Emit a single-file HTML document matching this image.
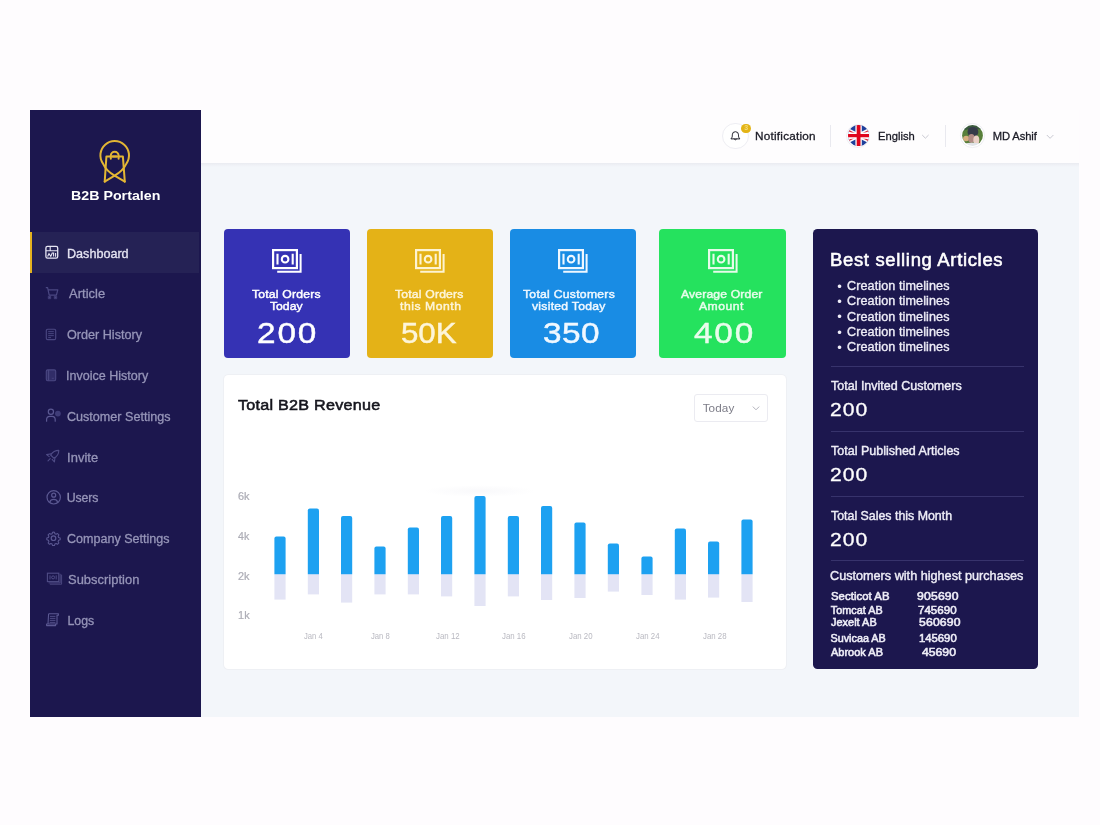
<!DOCTYPE html>
<html lang="en">
<head>
<meta charset="utf-8">
<title>B2B Portalen – Dashboard</title>
<style>
*{box-sizing:border-box;margin:0;padding:0}
html,body{width:1100px;height:825px;overflow:hidden}
body{background:#fefcfe;font-family:"Liberation Sans",sans-serif;position:relative}
.a,.t,svg.a{position:absolute}
.t{white-space:nowrap;transform-origin:0 50%}
#sb-bg{left:30px;top:109.7px;width:171px;height:607.1px;background:#1c174e}
#sb-active{left:30px;top:231.8px;width:169px;height:40.9px;background:#252255;border-left:2px solid #e4b21f}
#hd-bg{left:201px;top:110px;width:877.7px;height:53px;background:#fefdfe}
#hd-shadow{left:201px;top:163px;width:877.7px;height:4px;background:linear-gradient(#eaebf1,#eef0f5 40%,#f3f6fa)}
#main-bg{left:201px;top:163px;width:877.7px;height:553.8px;background:#f3f6fa}
.card{top:229.1px;width:126.7px;height:129px;border-radius:4px}
#chart-bg{left:223.6px;top:375.3px;width:562.4px;height:293.3px;background:#fff;border-radius:4.5px;box-shadow:0 0 0 1px #eef0f4}
#panel-bg{left:813.2px;top:229px;width:225px;height:439.6px;background:#1c174e;border-radius:4.5px}
.hr{left:831px;width:193px;height:1px;background:#37336c}
.vr{top:125px;width:1px;height:22px;background:#e9e9ef}
#dd{left:694px;top:393.5px;width:73.6px;height:28.2px;border:1px solid #ebebf1;border-radius:3px;background:#fff}
.ring{border-radius:50%;border:1px solid #eeeef3;background:#fff}
</style>
</head>
<body>

<nav id="sidebar">
  <div id="sb-bg" class="a"></div>
  <div id="sb-active" class="a"></div>
  <!-- logo -->
  <svg class="a" style="left:95px;top:136px" width="40" height="50" viewBox="95 136 40 50" fill="none" stroke="#e3b634" stroke-width="2" stroke-linejoin="round" stroke-linecap="round">
    <path d="M124.8 181.6 L114.6 175.6 Q106.2 170.8 103 163.6 A14.3 14.3 0 1 1 126.4 163.6 Q123 170.8 114.6 175.6 L104.7 181.6"/>
    <path d="M104.7 181.6 L106.4 156.6 H122.9 L124.8 181.6"/>
    <path d="M110.8 158.8 V155.6 A3.9 3.9 0 0 1 118.6 155.6 V158.8"/>
    <path d="M112.6 156.6 H116.4"/>
  </svg>
  <!-- nav icons -->
  <svg class="a" style="left:44px;top:244px" width="16" height="16" viewBox="44 244 16 16" fill="none" stroke="#e6e5f3" stroke-width="1.3">
    <rect x="45.9" y="246.4" width="11.8" height="11.8" rx="1.6"/>
    <path d="M46 250.7 H57.6 M50.2 246.6 V250.6" stroke-width="1.1"/>
    <path d="M47.6 256.6 L49 253.6 L50.8 256.4 L52.2 253 H53.6 V256.6 M55.6 253 V256.8" stroke-width="1.1"/>
  </svg>
  <svg class="a" style="left:44px;top:285px" width="16" height="16" viewBox="44 285 16 16" fill="none" stroke="#4b4883" stroke-width="1.2" stroke-linejoin="round">
    <path d="M45.8 287.6 H47.6 L49.2 295.2 H56.4 L57.8 289.8 H48.2"/>
    <rect x="48.7" y="296.7" width="1.6" height="1.6" fill="#4b4883" stroke="none"/>
    <rect x="54.7" y="296.7" width="1.6" height="1.6" fill="#4b4883" stroke="none"/>
    <rect x="48.3" y="296.3" width="2.4" height="2.4" stroke-width=".8"/>
    <rect x="54.3" y="296.3" width="2.4" height="2.4" stroke-width=".8"/>
  </svg>
  <svg class="a" style="left:44px;top:327px" width="16" height="16" viewBox="44 327 16 16" fill="none" stroke="#4b4883" stroke-width="1.1">
    <rect x="46.3" y="329.2" width="9.4" height="10.4" rx="1.4"/>
    <path d="M48.2 331.6 H53.8 M48.2 333.6 H53.8 M48.2 335.6 H53.8 M48.2 337.6 H51" stroke-width=".9"/>
  </svg>
  <svg class="a" style="left:44px;top:368px" width="16" height="16" viewBox="44 368 16 16" fill="none" stroke="#4b4883" stroke-width="1.1">
    <rect x="46.3" y="369.9" width="9.4" height="10.8" rx="1.4" fill="#312d68"/>
    <path d="M48.6 370 V380.6"/>
    <path d="M51.8 378.3 H54" stroke-width="1" stroke-dasharray="1 .5"/>
  </svg>
  <svg class="a" style="left:44px;top:407px" width="19" height="17" viewBox="44 407 19 17" fill="none" stroke="#5b5892" stroke-width="1.2" stroke-linecap="round">
    <circle cx="50.9" cy="411.8" r="2.6"/>
    <path d="M46.6 421.2 V419.6 A3.2 3.2 0 0 1 49.8 416.4 H52 A3.2 3.2 0 0 1 55.2 419.6 V421.2"/>
    <circle cx="57.9" cy="413.6" r="2.9" fill="#3f3c78" stroke="none"/>
  </svg>
  <svg class="a" style="left:44px;top:448px" width="18" height="16" viewBox="44 448 18 16" fill="none" stroke="#4f4c86" stroke-width="1.1" stroke-linejoin="round" stroke-linecap="round">
    <path d="M58.8 450.4 C55.4 450.4 52.4 452.2 50.6 455 L53.8 458.2 C56.8 456.6 58.8 453.8 58.8 450.4 Z"/>
    <path d="M51.4 453.8 L46.6 454.6 L49.2 456.6 M55 457.4 L54.4 462 L52.2 459.4"/>
    <path d="M50.2 458.6 L48 460.8"/>
  </svg>
  <svg class="a" style="left:45px;top:489px" width="17" height="17" viewBox="45 489 17 17" fill="none" stroke="#5b5892" stroke-width="1.2">
    <circle cx="53.7" cy="497.3" r="6.7"/>
    <circle cx="53.7" cy="495.2" r="2"/>
    <path d="M49.8 502 A4 3.4 0 0 1 57.6 502"/>
  </svg>
  <svg class="a" style="left:45px;top:530px" width="17" height="17" viewBox="45 530 17 17" fill="none" stroke="#5b5892" stroke-width="1.2" stroke-linejoin="round">
    <circle cx="53.5" cy="538.2" r="2.3"/>
    <path transform="translate(53.5 538.2) scale(.87) translate(-53.5 -538.2)" d="M53.5 531.2 l1.1 .1 l.5 1.8 l1.4 .6 l1.6 -.9 l1.6 1.6 l-.9 1.6 l.6 1.4 l1.8 .5 v2.2 l-1.8 .5 l-.6 1.4 l.9 1.6 l-1.6 1.6 l-1.6 -.9 l-1.4 .6 l-.5 1.8 h-2.2 l-.5 -1.8 l-1.4 -.6 l-1.6 .9 l-1.6 -1.6 l.9 -1.6 l-.6 -1.4 l-1.8 -.5 v-2.2 l1.8 -.5 l.6 -1.4 l-.9 -1.6 l1.6 -1.6 l1.6 .9 l1.4 -.6 l.5 -1.8 z"/>
  </svg>
  <svg class="a" style="left:46px;top:572px" width="18" height="14" viewBox="46 572 18 14" fill="none" stroke="#4f4c86" stroke-width="1.1">
    <rect x="47.4" y="573.2" width="11.4" height="8.4"/>
    <path d="M61.6 574.6 V584.2 H49.8 M60.2 573.8 V582.9 H48.6" stroke-width=".9"/>
    <path d="M50 575.4 V579.4 M56.2 575.4 V579.4" stroke-width="1"/>
    <circle cx="53.1" cy="577.4" r="1.5" stroke-width="1"/>
  </svg>
  <svg class="a" style="left:45px;top:612px" width="16" height="16" viewBox="45 612 16 16" fill="none" stroke="#5b5892" stroke-width="1.1" stroke-linejoin="round">
    <path d="M48.6 613.8 H58.4 V615.2 H57 V624 H48 M48.6 613.8 L48 624 M46.6 624 H55.6 V625.6 H46.6 Z"/>
    <path d="M50 616.4 H55.4 M49.9 618.4 H55.4 M49.8 620.4 H55.4 M49.7 622.4 H55.4" stroke-width=".8"/>
  </svg>
<div class="t" style="left:66.6px;top:247px;font-size:12.3px;line-height:14px;color:#e6e5f3;transform:scaleX(1.024);-webkit-text-stroke:0.3px #e6e5f3;">Dashboard</div>
<div class="t" style="left:68.6px;top:287px;font-size:12.3px;line-height:14px;color:#9695b8;letter-spacing:0.05px;transform:scaleX(1.050);-webkit-text-stroke:0.3px #9695b8;">Article</div>
<div class="t" style="left:67.0px;top:328px;font-size:12.3px;line-height:14px;color:#9695b8;transform:scaleX(1.026);-webkit-text-stroke:0.3px #9695b8;">Order History</div>
<div class="t" style="left:66.4px;top:369px;font-size:12.3px;line-height:14px;color:#9695b8;transform:scaleX(1.019);-webkit-text-stroke:0.3px #9695b8;">Invoice History</div>
<div class="t" style="left:67.0px;top:410px;font-size:12.3px;line-height:14px;color:#9695b8;transform:scaleX(1.023);-webkit-text-stroke:0.3px #9695b8;">Customer Settings</div>
<div class="t" style="left:67.4px;top:451px;font-size:12.3px;line-height:14px;color:#9695b8;letter-spacing:0.06px;transform:scaleX(1.050);-webkit-text-stroke:0.3px #9695b8;">Invite</div>
<div class="t" style="left:66.7px;top:491px;font-size:12.3px;line-height:14px;color:#9695b8;letter-spacing:-0.08px;-webkit-text-stroke:0.3px #9695b8;">Users</div>
<div class="t" style="left:67.0px;top:532px;font-size:12.3px;line-height:14px;color:#9695b8;transform:scaleX(1.020);-webkit-text-stroke:0.3px #9695b8;">Company Settings</div>
<div class="t" style="left:67.8px;top:573px;font-size:12.3px;line-height:14px;color:#9695b8;letter-spacing:0.03px;transform:scaleX(1.050);-webkit-text-stroke:0.3px #9695b8;">Subscription</div>
<div class="t" style="left:67.6px;top:614px;font-size:12.3px;line-height:14px;color:#9695b8;letter-spacing:-0.07px;-webkit-text-stroke:0.3px #9695b8;">Logs</div>
<div class="t" style="left:70.6px;top:188px;font-size:13.6px;line-height:15px;color:#ffffff;transform:scaleX(1.047);font-weight:bold;">B2B Portalen</div>
</nav>

<header id="header">
  <div id="hd-bg" class="a"></div>
  <div class="a ring" style="left:722px;top:122.6px;width:26.6px;height:26.6px"></div>
  <svg class="a" style="left:729px;top:129px" width="13" height="13" viewBox="729 129 13 13" fill="none" stroke="#22222c" stroke-width="1" stroke-linejoin="round" stroke-linecap="round">
    <path d="M731.2 138.6 C732.4 137.4 732.3 136.4 732.3 134.8 A3.1 3.1 0 0 1 738.5 134.8 C738.5 136.4 738.4 137.4 739.6 138.6 Z"/>
    <path d="M734.2 139 A1.3 1.3 0 0 0 736.6 139"/>
  </svg>
  <div class="a" style="left:741.2px;top:123.5px;width:9.8px;height:9.8px;border-radius:50%;background:#e3b416"></div>
  <div class="t" style="left:744.3px;top:124.4px;font-size:7px;line-height:8px;color:#f4dc7c;font-weight:bold">3</div>
  <div class="a vr" style="left:830px"></div>
  <!-- flag -->
  <div class="a ring" style="left:846px;top:123.5px;width:24.4px;height:24.4px"></div>
  <svg class="a" style="left:847.6px;top:125.1px" width="21.2" height="21.2" viewBox="-10.6 -10.6 21.2 21.2">
    <defs><clipPath id="fc"><circle r="10.6"/></clipPath></defs>
    <g clip-path="url(#fc)">
      <rect x="-11" y="-11" width="22" height="22" fill="#1f3f9b"/>
      <path d="M-21 -10.5 L21 10.5 M21 -10.5 L-21 10.5" stroke="#fff" stroke-width="4.2"/>
      <path d="M-21 -10.5 L21 10.5 M21 -10.5 L-21 10.5" stroke="#d8283a" stroke-width="1.3"/>
      <path d="M0 -11 V11 M-11 0 H11" stroke="#fff" stroke-width="6.4"/>
      <path d="M0 -11 V11" stroke="#e0051c" stroke-width="3.8"/>
      <path d="M-11 0 H11" stroke="#e0051c" stroke-width="3.2"/>
    </g>
  </svg>
  <svg class="a" style="left:920px;top:132px" width="11" height="9" viewBox="920 132 11 9" fill="none" stroke="#c9c9d2" stroke-width="1"><path d="M922.2 135 L925.4 138.2 L928.6 135"/></svg>
  <div class="a vr" style="left:945px"></div>
  <!-- avatar -->
  <div class="a ring" style="left:960.4px;top:123.4px;width:24.4px;height:24.4px"></div>
  <svg class="a" style="left:962px;top:125px" width="21" height="21" viewBox="-10.5 -10.5 21 21">
    <defs><clipPath id="ac"><circle r="10.4"/></clipPath><filter id="ab" x="-20%" y="-20%" width="140%" height="140%"><feGaussianBlur stdDeviation=".55"/></filter></defs>
    <g clip-path="url(#ac)"><g filter="url(#ab)">
      <rect x="-12" y="-12" width="24" height="24" fill="#587f3b"/>
      <path d="M-12 -12 H12 V-5 Q0 -9 -12 -4 Z" fill="#3a5a3c"/>
      <ellipse cx=".4" cy="-3.6" rx="5.4" ry="5" fill="#363a4a"/>
      <ellipse cx="-6.4" cy="3" rx="3" ry="2.8" fill="#d6ae7e"/>
      <ellipse cx="-1" cy="3" rx="3.2" ry="4.4" fill="#b08a84"/>
      <ellipse cx="3.8" cy="4.6" rx="3" ry="4.6" fill="#ead0c6"/>
      <path d="M-9 8.4 Q0 6.2 9 8.6 V12 H-9 Z" fill="#e1e4e8"/>
    </g></g>
  </svg>
  <svg class="a" style="left:1044px;top:132px" width="12" height="9" viewBox="1044 132 12 9" fill="none" stroke="#c9c9d2" stroke-width="1"><path d="M1046.8 135 L1050.1 138.3 L1053.4 135"/></svg>
<div class="t" style="left:755.4px;top:130px;font-size:11.2px;line-height:12px;color:#1b1b26;letter-spacing:0.22px;transform:scaleX(1.050);-webkit-text-stroke:0.3px #1b1b26;">Notification</div>
<div class="t" style="left:878.1px;top:130px;font-size:11.2px;line-height:12px;color:#1b1b26;-webkit-text-stroke:0.3px #1b1b26;">English</div>
<div class="t" style="left:992.7px;top:130px;font-size:11.2px;line-height:12px;color:#1b1b26;letter-spacing:-0.08px;-webkit-text-stroke:0.3px #1b1b26;">MD Ashif</div>
</header>

<main id="main">
  <div id="main-bg" class="a"></div>
  <div id="hd-shadow" class="a"></div>

  <section id="cards">
    <div class="a card" style="left:223.7px;background:#3532b4"></div>
    <div class="a card" style="left:366.5px;background:#e4b217"></div>
    <div class="a card" style="left:509.5px;background:#198ce4"></div>
    <div class="a card" style="left:659.4px;background:#25e25e"></div>
        <svg class="a" style="left:272px;top:249.4px" width="31" height="25" stroke="#ffffff" fill="none">
      <rect x="1.1" y="1.1" width="23.8" height="18" stroke-width="2.2"/>
        <path d="M28.6 5 V22.7 H5.2" stroke-width="2"/>
        <path d="M5.5 4.7 V15.6 M20.7 4.7 V15.6" stroke-width="2.1"/>
        <circle cx="13.1" cy="10.2" r="3.3" stroke-width="2.1"/>
    </svg>
    <svg class="a" style="left:415px;top:249.4px" width="31" height="25" stroke="#fdf3d2" fill="none">
      <rect x="1.1" y="1.1" width="23.8" height="18" stroke-width="2.2"/>
        <path d="M28.6 5 V22.7 H5.2" stroke-width="2"/>
        <path d="M5.5 4.7 V15.6 M20.7 4.7 V15.6" stroke-width="2.1"/>
        <circle cx="13.1" cy="10.2" r="3.3" stroke-width="2.1"/>
    </svg>
    <svg class="a" style="left:557.6px;top:249.4px" width="31" height="25" stroke="#eef7ff" fill="none">
      <rect x="1.1" y="1.1" width="23.8" height="18" stroke-width="2.2"/>
        <path d="M28.6 5 V22.7 H5.2" stroke-width="2"/>
        <path d="M5.5 4.7 V15.6 M20.7 4.7 V15.6" stroke-width="2.1"/>
        <circle cx="13.1" cy="10.2" r="3.3" stroke-width="2.1"/>
    </svg>
    <svg class="a" style="left:707.6px;top:249.4px" width="31" height="25" stroke="#e6fbe9" fill="none">
      <rect x="1.1" y="1.1" width="23.8" height="18" stroke-width="2.2"/>
        <path d="M28.6 5 V22.7 H5.2" stroke-width="2"/>
        <path d="M5.5 4.7 V15.6 M20.7 4.7 V15.6" stroke-width="2.1"/>
        <circle cx="13.1" cy="10.2" r="3.3" stroke-width="2.1"/>
    </svg>
<div class="t" style="left:252.1px;top:288px;font-size:11.6px;line-height:12px;color:#ffffff;letter-spacing:0.19px;transform:scaleX(1.050);-webkit-text-stroke:0.45px #ffffff;">Total Orders</div>
<div class="t" style="left:269.7px;top:300px;font-size:11.6px;line-height:12px;color:#ffffff;transform:scaleX(1.050);-webkit-text-stroke:0.45px #ffffff;">Today</div>
<div class="t" style="left:256.9px;top:316px;font-size:29.5px;line-height:33px;color:#ffffff;letter-spacing:1.66px;transform:scaleX(1.130);-webkit-text-stroke:0.45px #ffffff;">200</div>
<div class="t" style="left:395.1px;top:288px;font-size:11.6px;line-height:12px;color:#fdf5da;letter-spacing:0.18px;transform:scaleX(1.050);-webkit-text-stroke:0.45px #fdf5da;">Total Orders</div>
<div class="t" style="left:399.8px;top:300px;font-size:11.6px;line-height:12px;color:#fdf5da;letter-spacing:0.51px;transform:scaleX(1.050);-webkit-text-stroke:0.45px #fdf5da;">this Month</div>
<div class="t" style="left:400.7px;top:316px;font-size:29.5px;line-height:33px;color:#fdf5da;transform:scaleX(1.059);-webkit-text-stroke:0.45px #fdf5da;">50K</div>
<div class="t" style="left:523.3px;top:288px;font-size:11.6px;line-height:12px;color:#f0f8ff;letter-spacing:0.26px;transform:scaleX(1.050);-webkit-text-stroke:0.45px #f0f8ff;">Total Customers</div>
<div class="t" style="left:532.0px;top:300px;font-size:11.6px;line-height:12px;color:#f0f8ff;letter-spacing:0.26px;transform:scaleX(1.050);-webkit-text-stroke:0.45px #f0f8ff;">visited Today</div>
<div class="t" style="left:543.1px;top:316px;font-size:29.5px;line-height:33px;color:#f0f8ff;letter-spacing:0.42px;transform:scaleX(1.130);-webkit-text-stroke:0.45px #f0f8ff;">350</div>
<div class="t" style="left:681.0px;top:288px;font-size:11.6px;line-height:12px;color:#e9fcec;letter-spacing:0.14px;transform:scaleX(1.050);-webkit-text-stroke:0.45px #e9fcec;">Average Order</div>
<div class="t" style="left:699.4px;top:300px;font-size:11.6px;line-height:12px;color:#e9fcec;letter-spacing:0.45px;transform:scaleX(1.050);-webkit-text-stroke:0.45px #e9fcec;">Amount</div>
<div class="t" style="left:694.0px;top:316px;font-size:29.5px;line-height:33px;color:#e9fcec;letter-spacing:1.61px;transform:scaleX(1.130);-webkit-text-stroke:0.45px #e9fcec;">400</div>
  </section>

  <section id="chart">
    <div id="chart-bg" class="a"></div>
    <div id="dd" class="a"></div>
    <svg class="a" style="left:750px;top:403px" width="12" height="10" viewBox="750 403 12 10" fill="none" stroke="#b4b4bd" stroke-width="1"><path d="M752.8 406.6 L756 409.8 L759.2 406.6"/></svg>
    <svg class="a" style="left:260px;top:485px" width="510" height="130" viewBox="260 485 510 130">
      <ellipse cx="480" cy="491" rx="56" ry="6" fill="url(#glow)"/>
      <defs><radialGradient id="glow"><stop offset="0" stop-color="#e9e9f0" stop-opacity=".3"/><stop offset="1" stop-color="#e9e9f0" stop-opacity="0"/></radialGradient></defs>
      <g fill="#e3e4f5">
        <rect x="274.4" y="574.2" width="11.2" height="25.4"/>
        <rect x="307.8" y="574.2" width="11.2" height="20.2"/>
        <rect x="341.0" y="574.2" width="11.2" height="28.4"/>
        <rect x="374.4" y="574.2" width="11.2" height="20.2"/>
        <rect x="407.8" y="574.2" width="11.2" height="20.2"/>
        <rect x="441.0" y="574.2" width="11.2" height="22.2"/>
        <rect x="474.4" y="574.2" width="11.2" height="31.8"/>
        <rect x="507.8" y="574.2" width="11.2" height="22.2"/>
        <rect x="541.0" y="574.2" width="11.2" height="25.8"/>
        <rect x="574.4" y="574.2" width="11.2" height="23.8"/>
        <rect x="607.8" y="574.2" width="11.2" height="17.4"/>
        <rect x="641.4" y="574.2" width="11.2" height="20.8"/>
        <rect x="674.8" y="574.2" width="11.2" height="25.4"/>
        <rect x="708.0" y="574.2" width="11.2" height="23.4"/>
        <rect x="741.4" y="574.2" width="11.2" height="27.8"/>
      </g>
      <g fill="#1da1f1">
        <path d="M274.4 574.2 V538.6 Q274.4 536.6 276.4 536.6 H283.6 Q285.6 536.6 285.6 538.6 V574.2 Z"/>
        <path d="M307.8 574.2 V510.4 Q307.8 508.4 309.8 508.4 H317.0 Q319.0 508.4 319.0 510.4 V574.2 Z"/>
        <path d="M341.0 574.2 V518.0 Q341.0 516.0 343.0 516.0 H350.2 Q352.2 516.0 352.2 518.0 V574.2 Z"/>
        <path d="M374.4 574.2 V548.6 Q374.4 546.6 376.4 546.6 H383.6 Q385.6 546.6 385.6 548.6 V574.2 Z"/>
        <path d="M407.8 574.2 V529.4 Q407.8 527.4 409.8 527.4 H417.0 Q419.0 527.4 419.0 529.4 V574.2 Z"/>
        <path d="M441.0 574.2 V518.0 Q441.0 516.0 443.0 516.0 H450.2 Q452.2 516.0 452.2 518.0 V574.2 Z"/>
        <path d="M474.4 574.2 V498.0 Q474.4 496.0 476.4 496.0 H483.6 Q485.6 496.0 485.6 498.0 V574.2 Z"/>
        <path d="M507.8 574.2 V518.0 Q507.8 516.0 509.8 516.0 H517.0 Q519.0 516.0 519.0 518.0 V574.2 Z"/>
        <path d="M541.0 574.2 V508.0 Q541.0 506.0 543.0 506.0 H550.2 Q552.2 506.0 552.2 508.0 V574.2 Z"/>
        <path d="M574.4 574.2 V524.4 Q574.4 522.4 576.4 522.4 H583.6 Q585.6 522.4 585.6 524.4 V574.2 Z"/>
        <path d="M607.8 574.2 V545.6 Q607.8 543.6 609.8 543.6 H617.0 Q619.0 543.6 619.0 545.6 V574.2 Z"/>
        <path d="M641.4 574.2 V558.6 Q641.4 556.6 643.4 556.6 H650.6 Q652.6 556.6 652.6 558.6 V574.2 Z"/>
        <path d="M674.8 574.2 V530.6 Q674.8 528.6 676.8 528.6 H684.0 Q686.0 528.6 686.0 530.6 V574.2 Z"/>
        <path d="M708.0 574.2 V543.4 Q708.0 541.4 710.0 541.4 H717.2 Q719.2 541.4 719.2 543.4 V574.2 Z"/>
        <path d="M741.4 574.2 V521.6 Q741.4 519.6 743.4 519.6 H750.6 Q752.6 519.6 752.6 521.6 V574.2 Z"/>
      </g>
    </svg>
<div class="t" style="left:237.6px;top:396px;font-size:15.4px;line-height:17px;color:#15151d;letter-spacing:0.23px;transform:scaleX(1.050);-webkit-text-stroke:0.55px #15151d;">Total B2B Revenue</div>
<div class="t" style="left:702.7px;top:401px;font-size:11.7px;line-height:13px;color:#7d7d88;letter-spacing:0.09px;">Today</div>
<div class="t" style="left:237.8px;top:491px;font-size:10.4px;line-height:11px;color:#adadb6;transform:scaleX(1.050);-webkit-text-stroke:0.2px #adadb6;">6k</div>
<div class="t" style="left:238.2px;top:531px;font-size:10.4px;line-height:11px;color:#adadb6;transform:scaleX(1.022);-webkit-text-stroke:0.2px #adadb6;">4k</div>
<div class="t" style="left:237.9px;top:571px;font-size:10.4px;line-height:11px;color:#adadb6;transform:scaleX(1.050);-webkit-text-stroke:0.2px #adadb6;">2k</div>
<div class="t" style="left:237.6px;top:610px;font-size:10.4px;line-height:11px;color:#adadb6;letter-spacing:0.27px;transform:scaleX(1.050);-webkit-text-stroke:0.2px #adadb6;">1k</div>
<div class="t" style="left:304.3px;top:631px;font-size:8.4px;line-height:10px;color:#b9b9c1;transform:scaleX(0.912);">Jan 4</div>
<div class="t" style="left:371.1px;top:631px;font-size:8.4px;line-height:10px;color:#b9b9c1;transform:scaleX(0.918);">Jan 8</div>
<div class="t" style="left:435.5px;top:631px;font-size:8.4px;line-height:10px;color:#b9b9c1;transform:scaleX(0.941);">Jan 12</div>
<div class="t" style="left:502.1px;top:631px;font-size:8.4px;line-height:10px;color:#b9b9c1;transform:scaleX(0.939);">Jan 16</div>
<div class="t" style="left:568.9px;top:631px;font-size:8.4px;line-height:10px;color:#b9b9c1;transform:scaleX(0.937);">Jan 20</div>
<div class="t" style="left:635.7px;top:631px;font-size:8.4px;line-height:10px;color:#b9b9c1;transform:scaleX(0.934);">Jan 24</div>
<div class="t" style="left:702.5px;top:631px;font-size:8.4px;line-height:10px;color:#b9b9c1;transform:scaleX(0.938);">Jan 28</div>
  </section>

  <aside id="panel">
    <div id="panel-bg" class="a"></div>
    <div class="a hr" style="top:366px"></div>
    <div class="a hr" style="top:430.6px"></div>
    <div class="a hr" style="top:495.6px"></div>
    <div class="a hr" style="top:560.2px"></div>
    <div class="t" style="left:837.2px;top:278.9px;font-size:13px;line-height:15.3px;color:#eeedf7">•<br>•<br>•<br>•<br>•</div>
<div class="t" style="left:829.5px;top:250px;font-size:17.6px;line-height:20px;color:#ffffff;letter-spacing:0.64px;transform:scaleX(1.050);-webkit-text-stroke:0.55px #ffffff;">Best selling Articles</div>
<div class="t" style="left:847.4px;top:279px;font-size:12px;line-height:14px;color:#eeedf7;letter-spacing:0.09px;transform:scaleX(1.050);-webkit-text-stroke:0.35px #eeedf7;">Creation timelines</div>
<div class="t" style="left:847.4px;top:294px;font-size:12px;line-height:14px;color:#eeedf7;letter-spacing:0.09px;transform:scaleX(1.050);-webkit-text-stroke:0.35px #eeedf7;">Creation timelines</div>
<div class="t" style="left:847.4px;top:310px;font-size:12px;line-height:14px;color:#eeedf7;letter-spacing:0.09px;transform:scaleX(1.050);-webkit-text-stroke:0.35px #eeedf7;">Creation timelines</div>
<div class="t" style="left:847.4px;top:325px;font-size:12px;line-height:14px;color:#eeedf7;letter-spacing:0.09px;transform:scaleX(1.050);-webkit-text-stroke:0.35px #eeedf7;">Creation timelines</div>
<div class="t" style="left:847.4px;top:340px;font-size:12px;line-height:14px;color:#eeedf7;letter-spacing:0.09px;transform:scaleX(1.050);-webkit-text-stroke:0.35px #eeedf7;">Creation timelines</div>
<div class="t" style="left:830.7px;top:379px;font-size:12.2px;line-height:14px;color:#eeedf7;transform:scaleX(1.026);-webkit-text-stroke:0.4px #eeedf7;">Total Invited Customers</div>
<div class="t" style="left:830.7px;top:444px;font-size:12.2px;line-height:14px;color:#eeedf7;transform:scaleX(1.026);-webkit-text-stroke:0.4px #eeedf7;">Total Published Articles</div>
<div class="t" style="left:830.7px;top:509px;font-size:12.2px;line-height:14px;color:#eeedf7;transform:scaleX(1.015);-webkit-text-stroke:0.4px #eeedf7;">Total Sales this Month</div>
<div class="t" style="left:829.9px;top:399px;font-size:18.7px;line-height:21px;color:#ffffff;letter-spacing:0.9px;transform:scaleX(1.130);-webkit-text-stroke:0.3px #ffffff;">200</div>
<div class="t" style="left:829.9px;top:464px;font-size:18.7px;line-height:21px;color:#ffffff;letter-spacing:0.9px;transform:scaleX(1.130);-webkit-text-stroke:0.3px #ffffff;">200</div>
<div class="t" style="left:829.9px;top:529px;font-size:18.7px;line-height:21px;color:#ffffff;letter-spacing:0.9px;transform:scaleX(1.130);-webkit-text-stroke:0.3px #ffffff;">200</div>
<div class="t" style="left:830.4px;top:569px;font-size:12.4px;line-height:14px;color:#eeedf7;transform:scaleX(1.021);-webkit-text-stroke:0.4px #eeedf7;">Customers with highest purchases</div>
<div class="t" style="left:830.5px;top:590px;font-size:10.8px;line-height:12px;color:#eeedf7;letter-spacing:0.05px;transform:scaleX(1.050);-webkit-text-stroke:0.55px #eeedf7;">Secticot AB</div>
<div class="t" style="left:916.8px;top:590px;font-size:10.8px;line-height:12px;color:#eeedf7;letter-spacing:0.16px;transform:scaleX(1.130);-webkit-text-stroke:0.55px #eeedf7;">905690</div>
<div class="t" style="left:830.8px;top:604px;font-size:10.8px;line-height:12px;color:#eeedf7;letter-spacing:0.05px;-webkit-text-stroke:0.55px #eeedf7;">Tomcat AB</div>
<div class="t" style="left:917.8px;top:604px;font-size:10.8px;line-height:12px;color:#eeedf7;transform:scaleX(1.072);-webkit-text-stroke:0.55px #eeedf7;">745690</div>
<div class="t" style="left:830.8px;top:616px;font-size:10.8px;line-height:12px;color:#eeedf7;transform:scaleX(1.016);-webkit-text-stroke:0.55px #eeedf7;">Jexelt AB</div>
<div class="t" style="left:918.5px;top:616px;font-size:10.8px;line-height:12px;color:#eeedf7;letter-spacing:0.15px;transform:scaleX(1.130);-webkit-text-stroke:0.55px #eeedf7;">560690</div>
<div class="t" style="left:830.5px;top:632px;font-size:10.8px;line-height:12px;color:#eeedf7;-webkit-text-stroke:0.55px #eeedf7;">Suvicaa AB</div>
<div class="t" style="left:918.7px;top:632px;font-size:10.8px;line-height:12px;color:#eeedf7;transform:scaleX(1.046);-webkit-text-stroke:0.55px #eeedf7;">145690</div>
<div class="t" style="left:831.0px;top:646px;font-size:10.8px;line-height:12px;color:#eeedf7;transform:scaleX(1.019);-webkit-text-stroke:0.55px #eeedf7;">Abrook AB</div>
<div class="t" style="left:922.1px;top:646px;font-size:10.8px;line-height:12px;color:#eeedf7;transform:scaleX(1.130);-webkit-text-stroke:0.55px #eeedf7;">45690</div>
  </aside>
</main>
</body>
</html>
